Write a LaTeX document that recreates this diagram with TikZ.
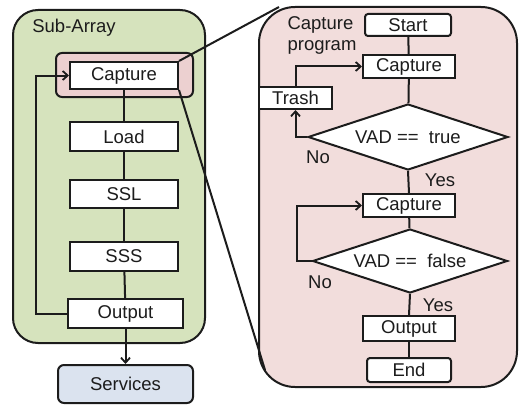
\documentclass[tikz,border=0pt]{standalone}
\usepackage{fontspec}
\setmainfont{Liberation Sans}
\usetikzlibrary{arrows.meta,shapes.geometric}
\definecolor{greenfill}{RGB}{214,227,189}
\definecolor{pinkfill}{RGB}{242,221,220}
\definecolor{hlpink}{RGB}{236,208,208}
\definecolor{bluefill}{RGB}{219,227,239}
\definecolor{ink}{RGB}{28,28,28}
\tikzset{
  x=1pt, y=-1pt,
  every node/.style={font=\fontsize{18.5}{21}\selectfont, text=ink},
  box/.style={draw=ink, line width=2pt, fill=white, inner sep=0pt, minimum height=28pt},
  rbox/.style={box, rounded corners=3pt},
  dia/.style={draw=ink, line width=2pt, fill=white, diamond, shape aspect=3, inner sep=0pt},
  conn/.style={draw=ink, line width=2pt},
  arr/.style={conn, -{Straight Barb[length=5pt,width=9pt,line width=1.8pt]}},
  lbl/.style={inner sep=0pt},
}
\begin{document}
\begin{tikzpicture}
\useasboundingbox (0,0) rectangle (519,404);
% containers
\draw[ink, line width=2pt, fill=greenfill, rounded corners=25pt] (13,10) rectangle (205,343);
\draw[ink, line width=2pt, fill=pinkfill, rounded corners=36pt] (259,7) rectangle (517,387);
\draw[ink, line width=2pt, fill=hlpink, rounded corners=6pt] (56,53) rectangle (193,97);
\node[lbl] (sub) at (74,28) {Sub-Array};
% left column
\node[box, minimum width=108pt, minimum height=27pt] (cap) at (124,75.5) {Capture};
\node[box, minimum width=108pt, minimum height=29pt] (load) at (124,136.5) {Load};
\node[box, minimum width=108pt] (ssl) at (124,194) {SSL};
\node[box, minimum width=108pt, minimum height=29pt] (sss) at (124,256.5) {SSS};
\node[box, minimum width=115pt, minimum height=29pt] (out) at (125.5,313.5) {Output};
\node[box, fill=bluefill, rounded corners=6pt, minimum width=135pt, minimum height=38pt] (serv) at (125.5,384) {Services};
\draw[conn] (cap) -- (load);
\draw[conn] (load) -- (ssl);
\draw[conn] (ssl) -- (sss);
\draw[conn] (sss) -- (out);
\coordinate (lp) at (36,313.5);
\draw[arr] (out.west) -- (lp) |- (cap.west);
\draw[arr] (out.south) -- (serv.north);
% right flowchart
\node[lbl, align=left] (prog) at (322,35) {Capture\\program};
\node[rbox, minimum width=86pt, minimum height=22pt] (start) at (408,25) {Start};
\node[box, minimum width=92pt, minimum height=23pt] (rc1) at (409,66.5) {Capture};
\node[dia, minimum width=200pt, minimum height=66pt] (d1) at (408,137) {VAD ==\ \ true};
\node[box, minimum width=73pt, minimum height=22pt] (trash) at (295.5,98) {Trash};
\node[box, minimum width=92pt, minimum height=23pt] (rc2) at (409,205.5) {Capture};
\node[dia, minimum width=195pt, minimum height=64pt] (d2) at (410,261) {VAD ==\ \ false};
\node[box, minimum width=92pt, minimum height=25pt] (rout) at (409,328.5) {Output};
\node[rbox, minimum width=84pt, minimum height=24pt] (end) at (409,370) {End};
\draw[conn] (start) -- (rc1);
\draw[conn] (rc1) -- (d1);
\draw[arr] (d1.west) -| (trash.south);
\draw[arr] (trash.north) |- (rc1.west);
\draw[conn] (d1.south) -- (rc2.north);
\draw[conn] (rc2) -- (d2);
\coordinate (lp2) at (297,261);
\draw[arr] (d2.west) -- (lp2) |- (rc2.west);
\draw[conn] (d2.south) -- (rout.north);
\draw[conn] (rout) -- (end);
\node[lbl] (no1) at (318,157) {No};
\node[lbl] (yes1) at (440,180) {Yes};
\node[lbl] (no2) at (320,282) {No};
\node[lbl] (yes2) at (438,305) {Yes};
% zoom lines
\coordinate (z1) at (279,7);
\coordinate (z2) at (265,370);
\draw[conn] (cap.north east) -- (z1);
\draw[conn] (cap.south east) -- (z2);
\end{tikzpicture}
\end{document}
